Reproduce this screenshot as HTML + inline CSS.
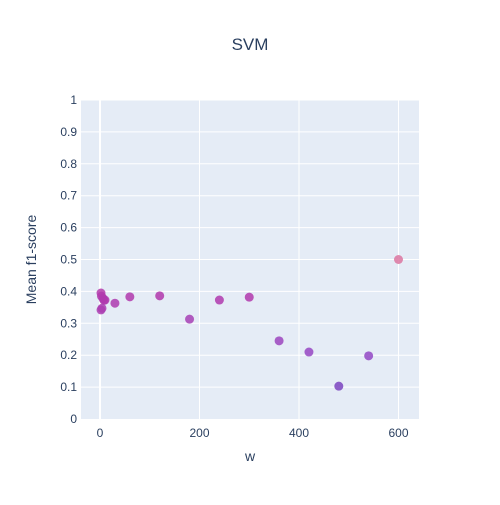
<!DOCTYPE html>
<html><head><meta charset="utf-8"><style>
body{margin:0;background:#fff}
svg{font-family:"Liberation Sans",sans-serif}
</style></head><body>
<svg id="c" width="500" height="500">
<rect x="0" y="0" width="500" height="500" fill="#fff"/>
<rect x="81" y="100" width="338" height="319" fill="#e5ecf6"/>
<g id="grid"></g>
<g id="ticks" font-size="12" fill="#2a3f5f"></g>
<g id="pts"></g>
<text x="250" y="50" text-anchor="middle" font-size="17" fill="#2a3f5f">SVM</text>
<text x="250" y="461" text-anchor="middle" font-size="14" fill="#2a3f5f">w</text>
<text x="36" y="259.5" text-anchor="middle" font-size="14" fill="#2a3f5f" transform="rotate(-90 36 259.5)">Mean f1-score</text>
</svg>
<script>
const xs=[2,3,6,8,10,2,4,30,60,120,180,240,300,360,420,480,540,600];
const ys=[0.395,0.385,0.378,0.372,0.373,0.342,0.347,0.363,0.383,0.386,0.313,0.373,0.382,0.245,0.21,0.103,0.198,0.5];
const xTicks=[0,200,400,600];
const yTicks=[0,0.1,0.2,0.3,0.4,0.5,0.6,0.7,0.8,0.9,1];
const yTickLabels=["0","0.1","0.2","0.3","0.4","0.5","0.6","0.7","0.8","0.9","1"];
function sx(v){return 100+v*0.4975;}
function sy(v){return 419-v*319;}
function col(v){
  const st=[[0.1,[122,68,192]],[0.2,[148,72,196]],[0.3,[165,66,182]],[0.39,[178,56,172]],[0.5,[220,118,160]]];
  if(v<=st[0][0])return st[0][1];
  for(let i=1;i<st.length;i++){if(v<=st[i][0]){const a=st[i-1],b=st[i],t=(v-a[0])/(b[0]-a[0]);return a[1].map((c,k)=>Math.round(c+(b[1][k]-c)*t));}}
  return st[st.length-1][1];
}
const NS="http://www.w3.org/2000/svg";
const g=document.getElementById('grid'),tk=document.getElementById('ticks'),p=document.getElementById('pts');
yTicks.forEach((v,i)=>{
  if(v>0){const l=document.createElementNS(NS,'line');l.setAttribute('x1',81);l.setAttribute('x2',419);l.setAttribute('y1',sy(v));l.setAttribute('y2',sy(v));l.setAttribute('stroke','#fff');l.setAttribute('stroke-width',1);
  
  
  g.appendChild(l);}
  const t=document.createElementNS(NS,'text');t.setAttribute('x',77);t.setAttribute('y',sy(v)+4);t.setAttribute('text-anchor','end');t.textContent=yTickLabels[i];
  
  
  tk.appendChild(t);
});
xTicks.forEach(v=>{
  const l=document.createElementNS(NS,'line');l.setAttribute('x1',sx(v));l.setAttribute('x2',sx(v));l.setAttribute('y1',100);l.setAttribute('y2',419);l.setAttribute('stroke','#fff');l.setAttribute('stroke-width',v==0?2:1);
  
  
  g.appendChild(l);
  const t=document.createElementNS(NS,'text');t.setAttribute('x',sx(v));t.setAttribute('y',437);t.setAttribute('text-anchor','middle');t.textContent=v;
  
  
  tk.appendChild(t);
});
xs.forEach((x,i)=>{
  const c=document.createElementNS(NS,'circle');c.setAttribute('cx',sx(x));c.setAttribute('cy',sy(ys[i]));c.setAttribute('r',4.5);
  c.setAttribute('fill','rgb('+col(ys[i]).join(',')+')');c.setAttribute('opacity',0.85);
  
  
  p.appendChild(c);
});
</script>
</body></html>
